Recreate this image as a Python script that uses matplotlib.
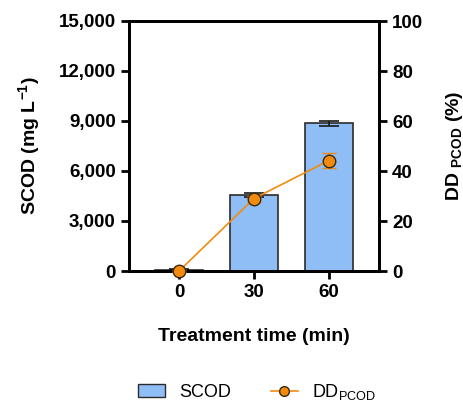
import numpy as np
import matplotlib.pyplot as plt
from matplotlib.lines import Line2D
from matplotlib.patches import Patch

plt.rcParams['font.family'] = ['Liberation Sans', 'DejaVu Sans']
plt.rcParams['mathtext.fontset'] = 'custom'
plt.rcParams['mathtext.rm'] = 'Liberation Sans'
plt.rcParams['mathtext.bf'] = 'Liberation Sans:bold'
plt.rcParams['mathtext.it'] = 'Liberation Sans:italic'

times = ['0', '30', '60']
scod = [80, 4560, 8880]
scod_err = [40, 120, 150]
dd = [0.0, 29.0, 44.2]
dd_err = [0.3, 1.2, 3.1]

x = np.arange(len(times))

fig = plt.figure(figsize=(4.64, 4.01), dpi=100)
ax = fig.add_axes([129/464, 1 - 271/401, 250/464, 250/401])

ax.bar(x, scod, width=0.65, color='#8FBDF5', edgecolor='#2b2b2b', linewidth=1.2,
       yerr=scod_err, capsize=7, error_kw=dict(ecolor='#1a1a1a', elinewidth=1.2, capthick=1.2),
       zorder=2)
ax.set_xlim(-0.667, 2.667)
ax.set_ylim(0, 15000)
ax.set_yticks([0, 3000, 6000, 9000, 12000, 15000])
ax.set_yticklabels(['0', '3,000', '6,000', '9,000', '12,000', '15,000'])
ax.set_xticks(x)
ax.set_xticklabels(times)

ax2 = ax.twinx()
ax2.errorbar(x, dd, yerr=dd_err, color='#F28A0E', lw=1.2, marker='o', ms=9,
             mfc='#F28A0E', mec='#3a2a10', mew=1.0, capsize=5, ecolor='#F28A0E',
             elinewidth=1.2, capthick=1.2, zorder=3, clip_on=False)
ax2.set_ylim(0, 100)
ax2.set_yticks([0, 20, 40, 60, 80, 100])

for a in (ax, ax2):
    for s in a.spines.values():
        s.set_linewidth(2)
    a.tick_params(direction='out', length=6, width=2, labelsize=13.5)
    for lab in a.get_xticklabels() + a.get_yticklabels():
        lab.set_fontweight('bold')

ax.set_xlabel('Treatment time (min)', fontsize=14, fontweight='bold', labelpad=19)
ax.set_ylabel('SCOD (mg L$^{\\mathbf{-1}}$)', fontsize=14, fontweight='bold', labelpad=12)
ax2.set_ylabel('DD $_{\\mathbf{PCOD}}$ (%)', fontsize=14, fontweight='bold', labelpad=15)

handles = [Patch(facecolor='#8FBDF5', edgecolor='#2b2b2b', linewidth=1.0),
           Line2D([], [], color='#F28A0E', lw=1.2, marker='o', ms=7,
                  mfc='#F28A0E', mec='#3a2a10')]
fig.legend(handles, ['SCOD', 'DD$_{\\mathrm{PCOD}}$'], loc='center',
           bbox_to_anchor=(257/464, 1 - 392/401), ncol=2, frameon=False,
           fontsize=13, columnspacing=2.2, handlelength=1.5, handletextpad=0.8)

fig.savefig('out.png', dpi=100)
